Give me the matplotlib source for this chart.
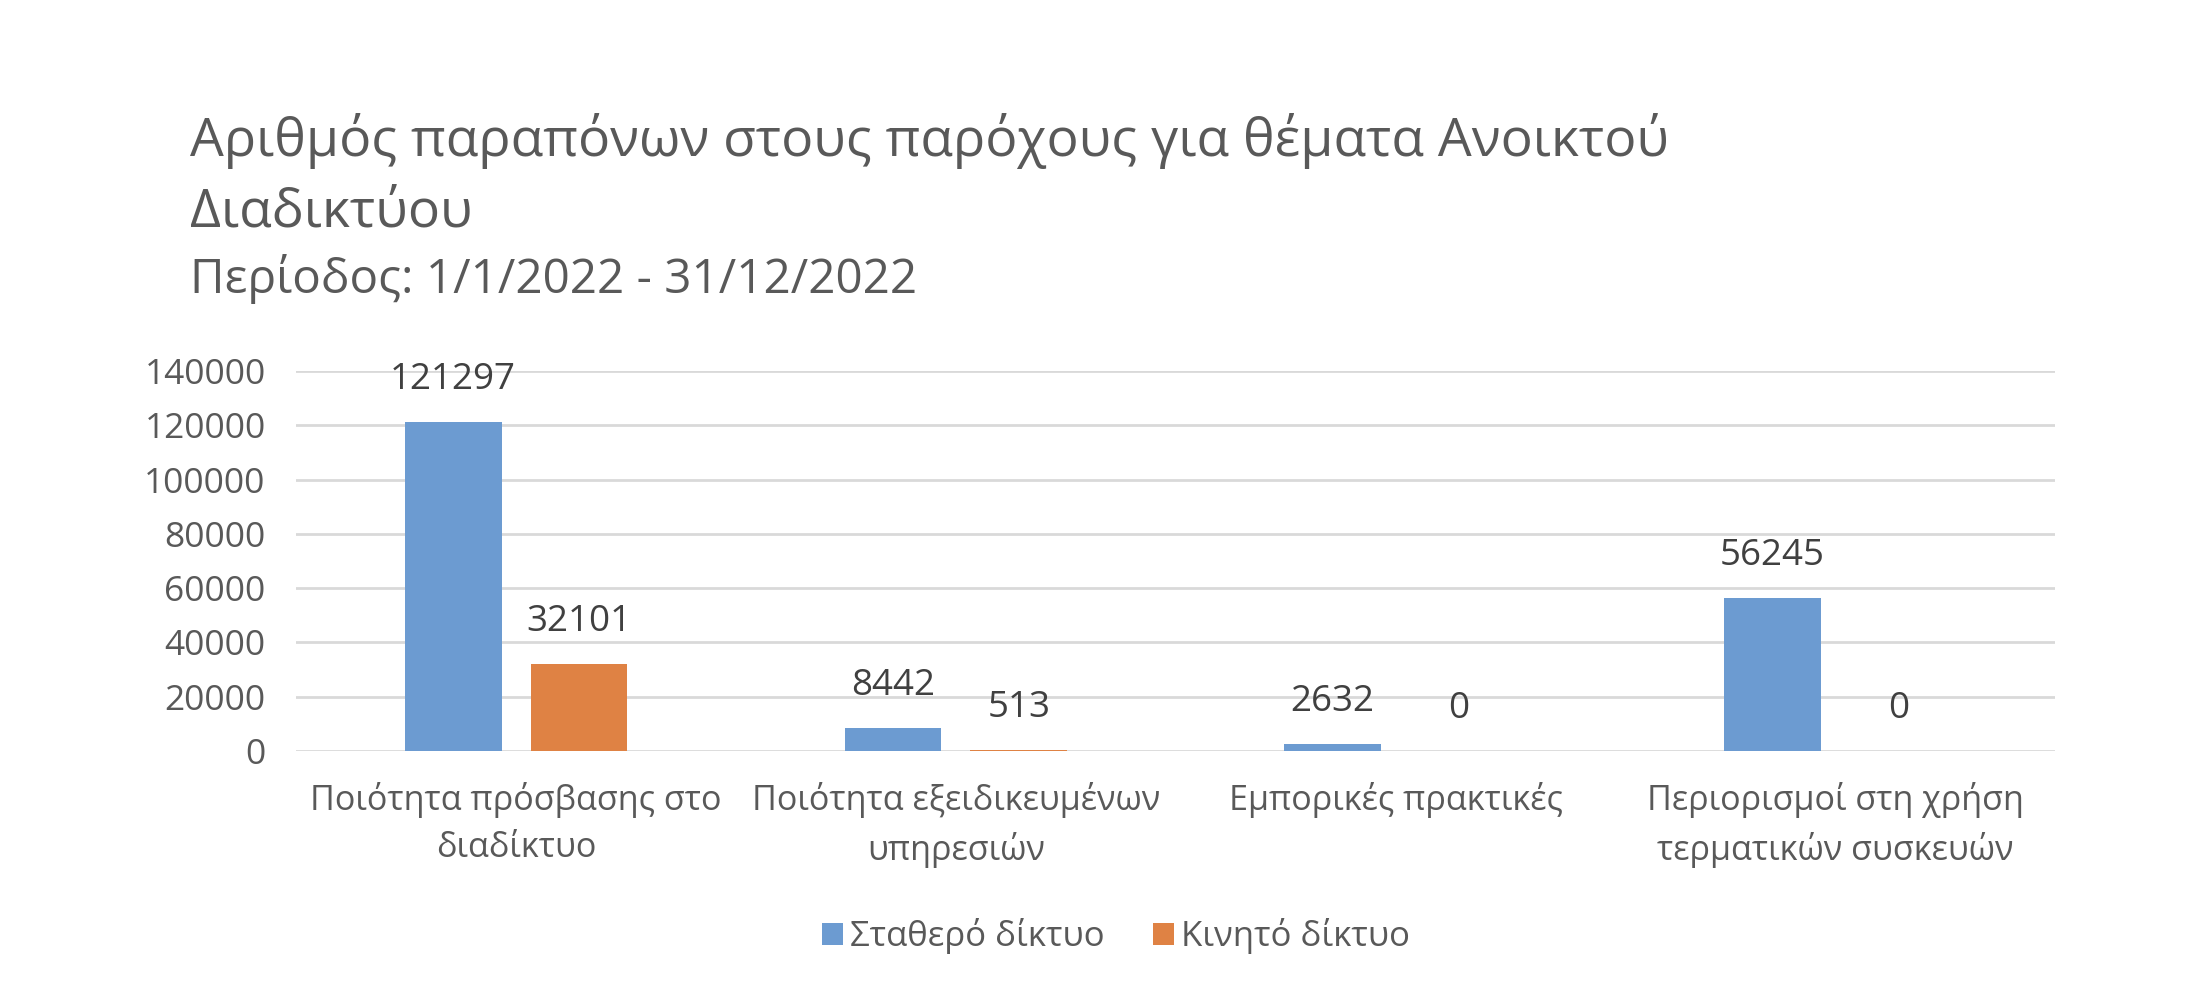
import matplotlib.pyplot as plt
import numpy as np

plt.rcParams['font.family'] = ['Open Sans', 'DejaVu Sans']

# Data
categories = ['Ποιότητα πρόσβασης στο\nδιαδίκτυο',
              'Ποιότητα εξειδικευμένων\nυπηρεσιών',
              'Εμπορικές πρακτικές',
              'Περιορισμοί στη χρήση\nτερματικών συσκευών']
fixed_net = [121297, 8442, 2632, 56245]
mobile_net = [32101, 513, 0, 0]
series_names = ['Σταθερό δίκτυο', 'Κινητό δίκτυο']
y_ticks = [0, 20000, 40000, 60000, 80000, 100000, 120000, 140000]

blue = '#6C9BD1'
orange = '#DF8244'
text_grey = '#595959'

fig = plt.figure(figsize=(22.1, 9.98), dpi=100)
ax = fig.add_axes([0.134, 0.2475, 0.796, 0.3808])

x = np.arange(len(categories))
w = 0.22
off = 0.143
b1 = ax.bar(x - off, fixed_net, w, color=blue, label=series_names[0], zorder=3)
b2 = ax.bar(x + off, mobile_net, w, color=orange, label=series_names[1], zorder=3)

# value labels above the bars
for bars in (b1, b2):
    for r in bars:
        ax.text(r.get_x() + r.get_width() / 2, r.get_height() + 15500, str(int(r.get_height())),
                ha='center', va='center', fontsize=26.5, color='#404040')

ax.set_xlim(-0.5, len(categories) - 0.5)
ax.set_ylim(0, 140000)
ax.set_yticks(y_ticks)
ax.set_yticklabels([str(t) for t in y_ticks], fontsize=25.5, color=text_grey)
ax.set_xticks(x)
ax.set_xticklabels(categories, fontsize=24.6, color=text_grey, linespacing=1.5)
ax.tick_params(length=0)
ax.tick_params(axis='y', pad=22)
ax.tick_params(axis='x', pad=22)
ax.yaxis.grid(True, color='#D9D9D9', linewidth=2, zorder=0)
for s in ax.spines.values():
    s.set_visible(False)

fig.text(0.0861, 0.8588, 'Αριθμός παραπόνων στους παρόχους για θέματα Ανοικτού',
         fontsize=38.5, color=text_grey, ha='left', va='center')
fig.text(0.0861, 0.7867, 'Διαδικτύου',
         fontsize=38.5, color=text_grey, ha='left', va='center')
fig.text(0.0861, 0.7203, 'Περίοδος: 1/1/2022 - 31/12/2022', fontsize=34.3, color=text_grey,
         ha='left', va='center')

leg = fig.legend(loc='center', bbox_to_anchor=(0.505, 0.062), ncol=2, frameon=False,
                 fontsize=25, handlelength=0.6, handleheight=0.6, handletextpad=0.2,
                 columnspacing=1.4)
for t in leg.get_texts():
    t.set_color(text_grey)

fig.savefig('out.png', dpi=100)
